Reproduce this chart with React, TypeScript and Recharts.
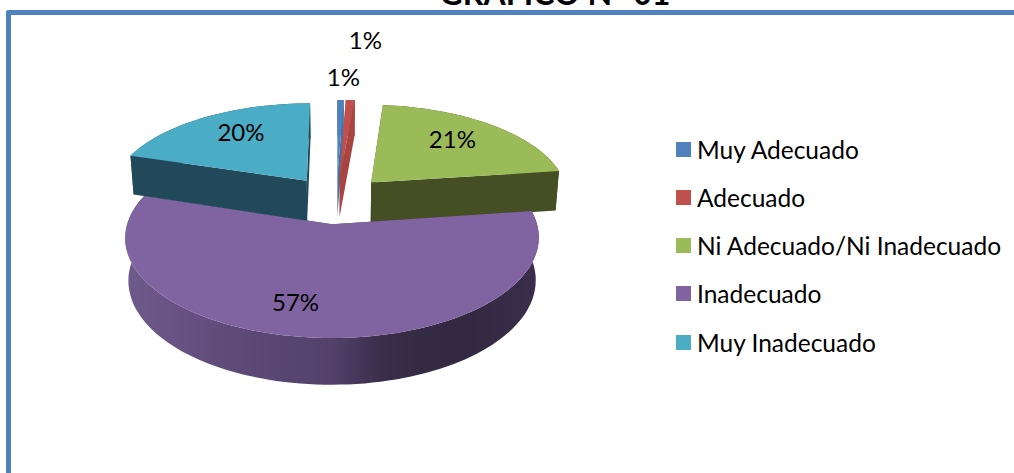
import { PieChart, Pie, Legend } from "recharts";

const categories = ["Muy Adecuado", "Adecuado", "Ni Adecuado/Ni Inadecuado", "Inadecuado", "Muy Inadecuado"];
const shares = [0.6, 0.85, 21.4, 57, 20.2];
const topColors = ["#4f81bd", "#c0504d", "#9bbb59", "#8064a2", "#4bacc6"];
const wallColors = ["#46709f", "#a84543", "#454f23", "#54406b", "#21495a"];
const labelNudges = [
  [4, -52],
  [19, -89],
  [7, -8],
  [-25, 13],
  [-3, -10],
];

const rows = categories.map((name, i) => ({ name, value: shares[i], fill: topColors[i] }));

// fake 3D: unit disc -> screen with a little perspective, Excel style
const SCALE_X = 1.98;
const SCALE_Y = 0.92;
const PERSPECTIVE = 0.13;
const EXPLODE = 0.26;

function toScreen(cx: number, cy: number, r: number, u: number, v: number, lowered = false) {
  const w = 1 + PERSPECTIVE * v;
  let x = (SCALE_X * r * u) / w;
  let y = cy - (SCALE_Y * r * v) / w;
  if (lowered) {
    x *= 0.985;
    y += 41 + (1 - w) * 35;
  }
  return [cx + x, y];
}

function discPoint(midDeg: number, deg: number, radius: number) {
  const e = (midDeg * Math.PI) / 180;
  const a = (deg * Math.PI) / 180;
  return [EXPLODE * Math.cos(e) + radius * Math.cos(a), EXPLODE * Math.sin(e) + radius * Math.sin(a)];
}

const path = (pts: number[][]) =>
  "M" + pts.map((p) => `${p[0].toFixed(1)},${p[1].toFixed(1)}`).join("L") + "Z";

function Wedge(props: any) {
  const { cx, cy, outerRadius, startAngle, endAngle, index } = props;
  const r = outerRadius;
  const mid = (startAngle + endAngle) / 2;
  const steps = Math.max(2, Math.round(Math.abs(endAngle - startAngle) / 2));
  const rim: number[][] = [];
  for (let i = 0; i <= steps; i++) {
    rim.push(discPoint(mid, startAngle + ((endAngle - startAngle) * i) / steps, 1));
  }
  const apex = discPoint(mid, mid, 0);
  const up = (p: number[]) => toScreen(cx, cy, r, p[0], p[1]);
  const down = (p: number[]) => toScreen(cx, cy, r, p[0], p[1], true);
  const first = rim[0];
  const last = rim[rim.length - 1];
  const wall = wallColors[index];
  const outerFill = index === 3 ? "url(#purpleWall)" : wall;
  return (
    <g>
      <defs>
        <linearGradient id="purpleWall" gradientUnits="userSpaceOnUse" x1="124" y1="0" x2="539" y2="0">
          <stop offset="0" stopColor="#6f5a8c" />
          <stop offset="0.25" stopColor="#5f4a7a" />
          <stop offset="0.5" stopColor="#54406b" />
          <stop offset="0.62" stopColor="#3a2e4a" />
          <stop offset="0.8" stopColor="#322840" />
          <stop offset="1" stopColor="#3a2e4c" />
        </linearGradient>
      </defs>
      <path d={path([up(apex), up(first), down(first), down(apex)])} fill={wall} />
      <path d={path([up(apex), up(last), down(last), down(apex)])} fill={wall} />
      <path d={path([...rim.map(up), ...rim.slice().reverse().map(down)])} fill={outerFill} />
      <path d={path([up(apex), ...rim.map(up)])} fill={topColors[index]} />
    </g>
  );
}

function sliceLabel(props: any) {
  const { cx, cy, outerRadius, midAngle, index, value } = props;
  const p = discPoint(midAngle, midAngle, 0.6);
  const s = toScreen(cx, cy, outerRadius, p[0], p[1]);
  return (
    <text
      x={s[0] + labelNudges[index][0]}
      y={s[1] + labelNudges[index][1]}
      textAnchor="middle"
      dominantBaseline="central"
      fontFamily="Lato"
      fontSize={24}
      fill="#000"
    >
      {Math.round(value) + "%"}
    </text>
  );
}

function LegendList(props: any) {
  return (
    <div>
      {(props.payload || []).map((item: any, i: number) => (
        <div key={i} style={{ display: "flex", alignItems: "center", height: 48.25 }}>
          <span style={{ width: 15, height: 15, background: topColors[i], marginRight: 6 }} />
          <span style={{ fontSize: 24.5, color: "#000", whiteSpace: "nowrap" }}>{item.value}</span>
        </div>
      ))}
    </div>
  );
}

export default function App() {
  return (
    <div style={{ position: "absolute", left: 0, top: 0, width: 1014, height: 473, overflow: "hidden", fontFamily: "Lato", background: "#fff" }}>
      <div
        style={{
          position: "absolute",
          left: 6,
          top: 10,
          width: 1014,
          height: 480,
          borderLeft: "5px solid #4f81bd",
          borderTop: "5px solid #4f81bd",
          borderTopLeftRadius: 3,
        }}
      />
      <PieChart
        width={1014}
        height={473}
        margin={{ top: 0, right: 0, bottom: 0, left: 0 }}
        style={{ position: "absolute", left: 0, top: 0 }}
      >
        <text x={555} y={5} textAnchor="middle" fontFamily="Lato" fontWeight={700} fontSize={32} fill="#000">
          GRAFICO N° 01
        </text>
        <Pie
          data={rows}
          dataKey="value"
          nameKey="name"
          cx={336.5}
          cy={199.5}
          outerRadius={100}
          startAngle={90}
          endAngle={-270}
          stroke="none"
          isAnimationActive={false}
          shape={Wedge}
          label={sliceLabel}
          labelLine={false}
        />
        <Legend
          layout="vertical"
          align="right"
          verticalAlign="top"
          itemSorter={null}
          content={LegendList}
          wrapperStyle={{ left: 676, top: 125, width: 338 }}
        />
      </PieChart>
    </div>
  );
}
